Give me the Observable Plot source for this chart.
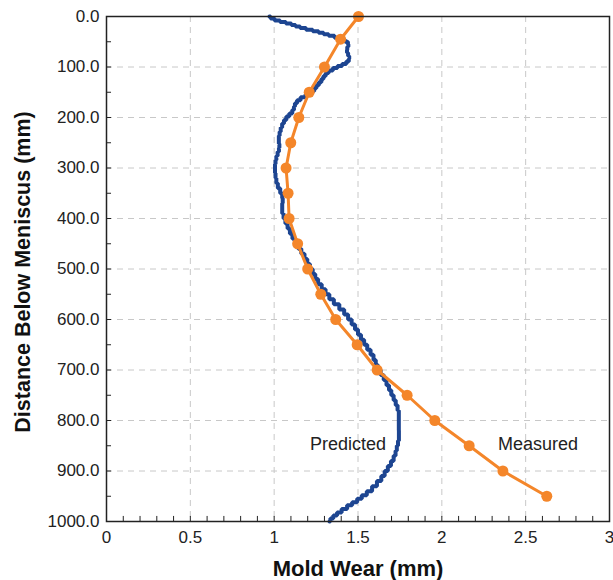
<!DOCTYPE html>
<html>
<head>
<meta charset="utf-8">
<script src="https://cdn.jsdelivr.net/npm/d3@7"></script>
<script src="https://cdn.jsdelivr.net/npm/@observablehq/plot@0.6"></script>
<style>
  html, body { margin: 0; padding: 0; background: #fff; }
  #chart svg { font-family: "Liberation Sans", Arial, sans-serif; }
</style>
</head>
<body>
<div id="chart"></div>
<script>
const measuredDepth = [0, 45, 100, 150, 200, 250, 300, 350, 400, 450, 500, 550, 600, 650, 700, 750, 800, 850, 900, 950];
const measuredWear  = [1.503, 1.396, 1.300, 1.209, 1.147, 1.099, 1.071, 1.083, 1.089, 1.140, 1.200, 1.278, 1.367, 1.495, 1.614, 1.793, 1.958, 2.163, 2.364, 2.626];

const predDepth = [0,4,8,11,14,17,20,23,26,29,32,35,38,42,46,50,55,60,66,72,78,84,89,94,98,102,107,112,118,124,130,136,142,148,154,160,166,172,178,185,192,198,205,212,220,228,236,244,252,260,268,276,284,292,300,310,320,330,340,350,360,370,380,390,400,410,420,430,440,450,460,470,480,490,500,510,520,530,540,550,560,570,580,590,600,610,620,630,640,650,660,670,680,690,700,710,720,730,740,750,760,770,780,790,800,810,820,830,840,850,860,870,880,890,900,910,920,930,940,948,955,962,968,975,982,988,994,1000];
const predWear = [0.972,0.985,1.02,1.05,1.09,1.115,1.14,1.17,1.21,1.25,1.28,1.31,1.34,1.38,1.41,1.435,1.445,1.44,1.432,1.437,1.445,1.45,1.44,1.42,1.39,1.365,1.335,1.315,1.30,1.288,1.275,1.258,1.245,1.232,1.205,1.17,1.145,1.128,1.12,1.116,1.10,1.08,1.065,1.052,1.043,1.035,1.03,1.026,1.03,1.032,1.025,1.016,1.01,1.006,1.004,1.006,1.01,1.016,1.028,1.044,1.052,1.05,1.046,1.05,1.062,1.072,1.088,1.10,1.118,1.135,1.152,1.172,1.19,1.205,1.222,1.238,1.252,1.272,1.295,1.318,1.34,1.372,1.405,1.43,1.452,1.472,1.492,1.508,1.528,1.545,1.565,1.585,1.60,1.612,1.625,1.645,1.662,1.678,1.692,1.705,1.72,1.73,1.742,1.745,1.742,1.745,1.742,1.746,1.742,1.735,1.728,1.72,1.705,1.688,1.668,1.65,1.628,1.598,1.57,1.535,1.51,1.48,1.45,1.42,1.385,1.365,1.34,1.33];

const xTicks = [0, 0.5, 1, 1.5, 2, 2.5, 3];
const xTickLabels = ["0", "0.5", "1", "1.5", "2", "2.5", "3"];
const xMinorTicks = d3.range(1, 30).map(i => i / 10);
const yTicks = [0, 100, 200, 300, 400, 500, 600, 700, 800, 900, 1000];
const yTickLabels = ["0.0", "100.0", "200.0", "300.0", "400.0", "500.0", "600.0", "700.0", "800.0", "900.0", "1000.0"];
const yMinorTicks = d3.range(1, 20).map(i => i * 50);
const xGrid = [0.5, 1, 1.5, 2, 2.5];
const yGrid = [100, 200, 300, 400, 500, 600, 700, 800, 900];

const measured = measuredDepth.map((d, i) => ({depth: d, wear: measuredWear[i]}));
const predicted = predDepth.map((d, i) => ({depth: d, wear: predWear[i]}));
const labels = [
  {text: "Predicted", wear: 1.44, depth: 847},
  {text: "Measured", wear: 2.574, depth: 847}
];

const blue = "#1d4591";
const orange = "#f4862a";

const chart = Plot.plot({
  width: 613,
  height: 580,
  marginLeft: 106,
  marginRight: 4,
  marginTop: 16,
  marginBottom: 59,
  style: {fontFamily: "'Liberation Sans', Arial, sans-serif", background: "#fff"},
  x: {domain: [0, 3]},
  y: {domain: [0, 1000], reverse: true},
  marks: [
    Plot.ruleX(xGrid, {stroke: "#c8c8c8", strokeWidth: 1, strokeDasharray: "6,5"}),
    Plot.ruleY(yGrid, {stroke: "#c8c8c8", strokeWidth: 1, strokeDasharray: "6,5"}),
    Plot.ruleX(xMinorTicks, {y1: 1000, y2: 990, stroke: "#222", strokeWidth: 1}),
    Plot.ruleY(yMinorTicks, {x1: 0, x2: 0.03, stroke: "#222", strokeWidth: 1}),
    Plot.axisX({ticks: xTicks, tickFormat: (d, i) => xTickLabels[i], tickSize: 0, tickPadding: 9, fontSize: 17, fill: "#222", label: null}),
    Plot.axisY({ticks: yTicks, tickFormat: (d, i) => yTickLabels[i], tickSize: 0, tickPadding: 7, fontSize: 17, fill: "#222", label: null}),
    Plot.line(predicted, {x: "wear", y: "depth", stroke: blue, strokeWidth: 4, strokeLinejoin: "miter", curve: "step"}),
    Plot.line(measured, {x: "wear", y: "depth", stroke: orange, strokeWidth: 3}),
    Plot.dot(measured, {x: "wear", y: "depth", fill: orange, r: 5.5}),
    Plot.text(labels, {x: "wear", y: "depth", text: "text", fontSize: 18, fill: "#222"}),
    Plot.frame({stroke: "#222", strokeWidth: 1.5}),
    Plot.text(["Mold Wear (mm)"], {frameAnchor: "bottom", dy: 54, fontSize: 22, fontWeight: "bold", fill: "#111"}),
    Plot.text(["Distance Below Meniscus (mm)"], {frameAnchor: "left", textAnchor: "middle", dx: -83, dy: 3, rotate: -90, fontSize: 21.5, fontWeight: "bold", fill: "#111"})
  ]
});
document.getElementById("chart").appendChild(chart);
</script>
</body>
</html>
